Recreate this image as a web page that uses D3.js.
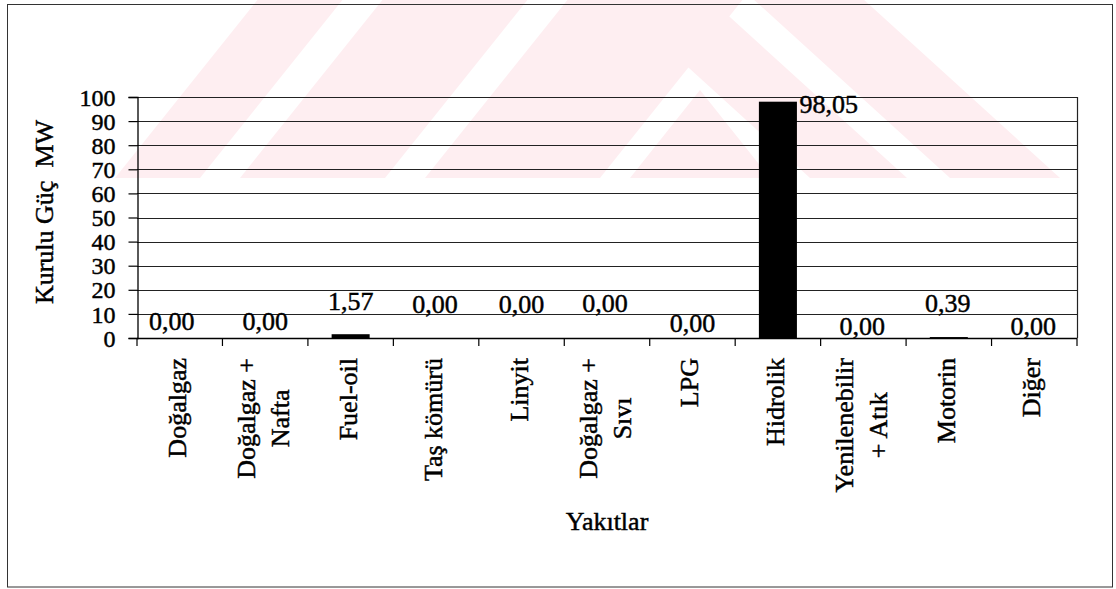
<!DOCTYPE html>
<html>
<head>
<meta charset="utf-8">
<script src="https://cdn.jsdelivr.net/npm/d3@7"></script>
<style>
  html, body { margin: 0; padding: 0; background: #fff; }
  svg { display: block; }
  text { font-family: "Liberation Serif", "Times New Roman", serif; fill: #000; stroke: #000; stroke-width: 0.45px; }
</style>
</head>
<body>
<svg id="chart" width="1116" height="589"></svg>
<script>
// ---- data ----
const categories = ["Doğalgaz", "Doğalgaz +\nNafta", "Fuel-oil", "Taş kömürü", "Linyit",
  "Doğalgaz +\nSıvı", "LPG", "Hidrolik", "Yenilenebilir\n+ Atık", "Motorin", "Diğer"];
const values = [0.00, 0.00, 1.57, 0.00, 0.00, 0.00, 0.00, 98.05, 0.00, 0.39, 0.00];
const yTicks = [0, 10, 20, 30, 40, 50, 60, 70, 80, 90, 100];
const yTitle = "Kurulu Güç  MW";
const xTitle = "Yakıtlar";

// ---- layout (label nudges in px, relative to bar top / band centre) ----
const labelNudge = [[-8, -8], [0, -8], [0, -24], [-1, -25], [0, -25], [-2, -26],
  [0, -6], [21.5, 11], [-1, -3], [-1, -25], [-1, -3]];
const labelAnchor = ["middle","middle","middle","middle","middle","middle","middle","start","middle","middle","middle"];

const svg = d3.select("#chart");
const FS = 26;
const plot = { left: 137, right: 1077, top: 97, bottom: 338 };

// ---- watermark (faint pink stripes) ----
const wm = svg.append("g").attr("fill", "#feeef1");
const wmTop = 0, wmBot = 178;
const lean = 0.8 * (wmBot - wmTop);
const leftStripes = [[115, 200], [240, 385], [425, 600]];
leftStripes.forEach(([a, b]) => {
  wm.append("polygon").attr("points",
    `${a},${wmBot} ${b},${wmBot} ${b + lean},${wmTop} ${a + lean},${wmTop}`);
});
const lean2 = 1.1 * (wmBot - wmTop);
const rightStripes = [[810, 907], [950, 1060]];
rightStripes.forEach(([a, b]) => {
  wm.append("polygon").attr("points",
    `${a},${wmBot} ${b},${wmBot} ${b - lean2},${wmTop} ${a - lean2},${wmTop}`);
});
wm.append("polygon").attr("points", `630,${wmBot} 770,${wmBot} 700,90`);

// ---- outer border ----
svg.append("rect").attr("x", 7.5).attr("y", 4.5).attr("width", 1105).attr("height", 582.5)
  .attr("fill", "none").attr("stroke", "#333").attr("stroke-width", 1);

// ---- scales ----
const x = d3.scaleBand().domain(categories).range([plot.left, plot.right])
  .paddingInner(0.555).paddingOuter(0.2775);
const y = d3.scaleLinear().domain([0, 100]).range([plot.bottom, plot.top]);
const step = x.step();

// ---- gridlines ----
svg.append("g").selectAll("line").data(yTicks).join("line")
  .attr("x1", plot.left).attr("x2", plot.right)
  .attr("y1", d => Math.round(y(d)) + 0.5).attr("y2", d => Math.round(y(d)) + 0.5)
  .attr("stroke", "#222").attr("stroke-width", 1.2);

// right border of plot area
svg.append("line").attr("x1", plot.right + 0.5).attr("x2", plot.right + 0.5)
  .attr("y1", y(100)).attr("y2", y(0)).attr("stroke", "#222").attr("stroke-width", 1.2);

// ---- y axis ----
const yAxis = d3.axisLeft(y).tickValues(yTicks).tickSize(9).tickPadding(13)
  .tickFormat(d3.format("d"));
const gy = svg.append("g").attr("transform", `translate(${plot.left + 0.5},0)`).call(yAxis);
gy.select(".domain").attr("stroke", "#000").attr("stroke-width", 1.3);
gy.selectAll(".tick line").attr("stroke", "#000").attr("stroke-width", 1.2);
gy.selectAll(".tick text").attr("font-size", 24).attr("font-family", "Liberation Serif")
  .attr("fill", "#000").attr("dy", "0.34em");

// ---- x axis (category boundary ticks) ----
svg.append("line").attr("x1", plot.left).attr("x2", plot.right)
  .attr("y1", y(0) + 0.5).attr("y2", y(0) + 0.5).attr("stroke", "#000").attr("stroke-width", 1.3);
const boundaries = d3.range(categories.length + 1).map(i => plot.left + i * step);
svg.append("g").selectAll("line").data(boundaries).join("line")
  .attr("x1", d => d).attr("x2", d => d)
  .attr("y1", y(0)).attr("y2", y(0) + 8)
  .attr("stroke", "#000").attr("stroke-width", 1.2);

// ---- bars ----
svg.append("g").selectAll("rect").data(values).join("rect")
  .attr("x", (d, i) => x(categories[i]))
  .attr("width", x.bandwidth())
  .attr("y", d => y(d))
  .attr("height", d => Math.max(0, y(0) - y(d)))
  .attr("fill", "#000");

// ---- value labels ----
const fmt = v => d3.format(".2f")(v).replace(".", ",");
svg.append("g").selectAll("text").data(values).join("text")
  .attr("x", (d, i) => x(categories[i]) + x.bandwidth() / 2 + labelNudge[i][0])
  .attr("y", (d, i) => y(d) + labelNudge[i][1])
  .attr("text-anchor", (d, i) => labelAnchor[i])
  .attr("font-size", FS)
  .text(d => fmt(d));

// ---- category labels (rotated) ----
const catTop = 358, lineGap = 34;
categories.forEach((c, i) => {
  const lines = c.split("\n");
  const cx = x(categories[i]) + x.bandwidth() / 2;
  const g = svg.append("g");
  const texts = lines.map((ln, j) => g.append("text").attr("font-size", FS)
    .attr("text-anchor", "middle").style("white-space", "pre").text(ln));
  const maxLen = d3.max(texts, t => t.node().getComputedTextLength());
  const cy = catTop + maxLen / 2;
  texts.forEach((t, j) => {
    const base = lines.length === 1 ? cx + 6 : cx - 10 + j * lineGap;
    t.attr("transform", `translate(${base},${cy}) rotate(-90)`);
  });
});

// ---- axis titles ----
svg.append("text").attr("font-size", FS).attr("text-anchor", "middle")
  .style("white-space", "pre")
  .attr("transform", `translate(53,212) rotate(-90)`).text(yTitle);
svg.append("text").attr("font-size", FS).attr("text-anchor", "middle")
  .attr("x", (plot.left + plot.right) / 2).attr("y", 530).text(xTitle);
</script>
</body>
</html>
